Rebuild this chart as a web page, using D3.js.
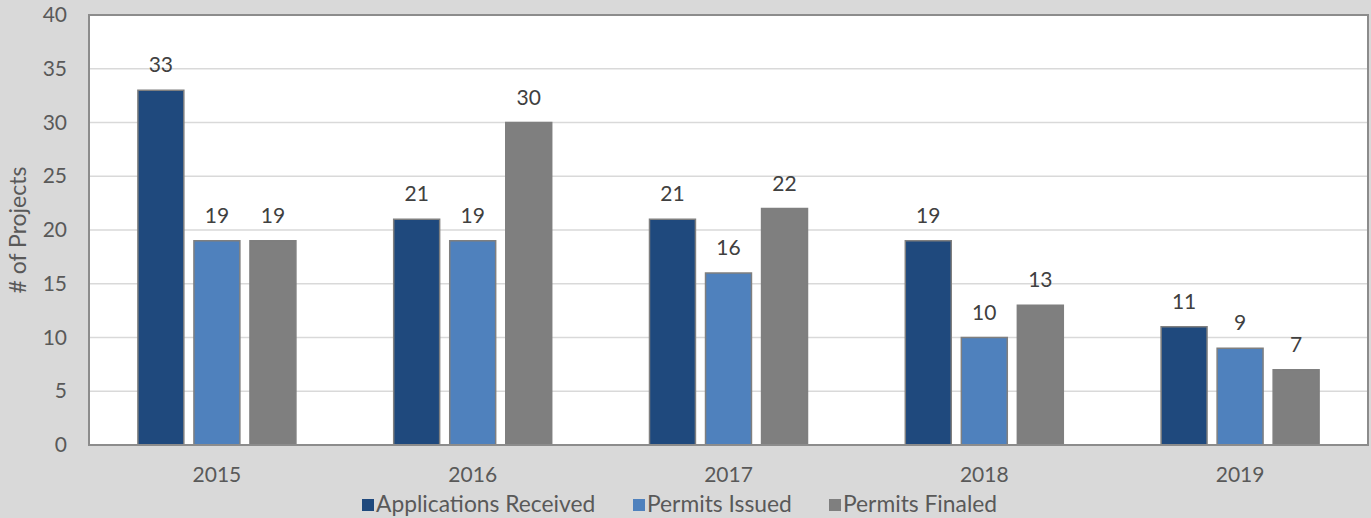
<!DOCTYPE html>
<html><head><meta charset="utf-8">
<script src="https://cdn.jsdelivr.net/npm/d3@7"></script>
<style>
html,body{margin:0;padding:0;background:#d9d9d9;}
svg{display:block;font-family:"Lato","Open Sans","Liberation Sans",sans-serif;}
</style></head>
<body>
<svg id="c" width="1371" height="518"></svg>
<script>
const categories = ["2015","2016","2017","2018","2019"];
const seriesNames = ["Applications Received","Permits Issued","Permits Finaled"];
const applicationsReceived = [33,21,21,19,11];
const permitsIssued = [19,19,16,10,9];
const permitsFinaled = [19,30,22,13,7];
const yTicks = [0,5,10,15,20,25,30,35,40];
const colors = ["#1f497d","#4f81bd","#7f7f7f"];
const seriesValues = [applicationsReceived, permitsIssued, permitsFinaled];

const W = 1371, H = 518;
const m = {left:89, top:15, right:3, bottom:73};
const FONT = "'Lato','Open Sans','Liberation Sans',sans-serif";
const svg = d3.select("#c");
svg.append("rect").attr("width",W).attr("height",H).attr("fill","#d9d9d9");

const x = d3.scaleBand().domain(categories).range([m.left, W-m.right]);
const xs = d3.scaleBand().domain(seriesNames).range([0,158]).paddingInner(0.18);
const y = d3.scaleLinear().domain([0,40]).range([H-m.bottom, m.top]);

svg.append("rect").attr("x",m.left).attr("y",m.top)
  .attr("width",W-m.right-m.left).attr("height",H-m.bottom-m.top).attr("fill","#fff");

svg.append("g").selectAll("line").data(yTicks.filter(d=>d>0 && d<40)).join("line")
  .attr("x1",m.left).attr("x2",W-m.right).attr("y1",d=>y(d)).attr("y2",d=>y(d))
  .attr("stroke","#d9d9d9").attr("stroke-width",1.5);

const g = svg.append("g");
categories.forEach((c,i)=>{
  const gx = x(c) + x.bandwidth()/2 - 79;
  seriesNames.forEach((s,j)=>{
    const v = seriesValues[j][i];
    g.append("rect").attr("x",gx+xs(s)).attr("y",y(v))
      .attr("width",xs.bandwidth()).attr("height",y(0)-y(v))
      .attr("fill",colors[j]).attr("stroke","#7f7f7f").attr("stroke-width",1.5);
    g.append("text").attr("x",gx+xs(s)+xs.bandwidth()/2).attr("y",y(v)-18)
      .attr("text-anchor","middle").attr("font-size",21).attr("fill","#404040").text(v);
  });
});

svg.append("rect").attr("x",m.left).attr("y",m.top)
  .attr("width",W-m.right-m.left).attr("height",H-m.bottom-m.top)
  .attr("fill","none").attr("stroke","#8c8c8c").attr("stroke-width",2);

const ya = svg.append("g").attr("transform",`translate(${m.left},0)`)
  .call(d3.axisLeft(y).tickValues(yTicks).tickSize(0).tickPadding(22));
ya.select(".domain").remove();
ya.selectAll("text").attr("font-size",21).attr("fill","#595959").attr("font-family",FONT);

const xa = svg.append("g").attr("transform",`translate(0,${H-m.bottom})`)
  .call(d3.axisBottom(x).tickSize(0).tickPadding(22));
xa.select(".domain").remove();
xa.selectAll("text").attr("font-size",21).attr("fill","#595959").attr("font-family",FONT);

svg.append("text").attr("transform","translate(26,230) rotate(-90)")
  .attr("text-anchor","middle").attr("font-size",23).attr("fill","#595959").text("# of Projects");

const legX = [362, 633, 829];
const leg = svg.append("g");
seriesNames.forEach((s,j)=>{
  leg.append("rect").attr("x",legX[j]).attr("y",499).attr("width",12).attr("height",12).attr("fill",colors[j]);
  leg.append("text").attr("x",legX[j]+14).attr("y",512).attr("font-size",22.8).attr("fill","#595959").text(s);
});
</script>
</body></html>
